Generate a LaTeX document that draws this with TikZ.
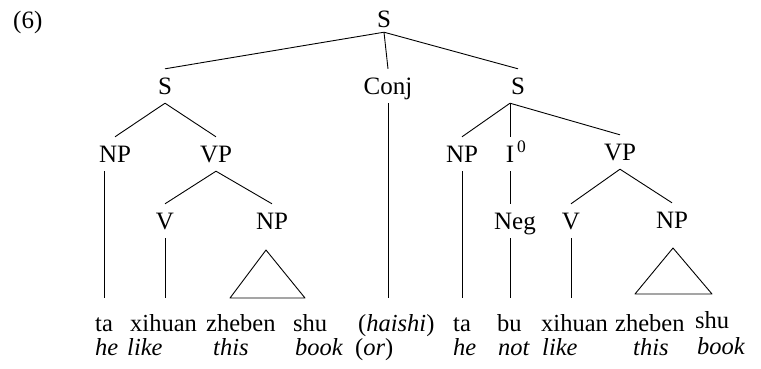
\documentclass[tikz,border=0pt]{standalone}
\usepackage{fontspec}
\setmainfont{Liberation Serif}
\begin{document}
\begin{tikzpicture}[x=1pt,y=-1pt,
  every node/.style={font=\fontsize{25}{29}\selectfont},
  cat/.style={inner xsep=0pt, inner ysep=9pt, text height=16pt, text depth=0pt},
  word/.style={anchor=base west, inner sep=0pt, text height=17pt, text depth=0pt, font=\fontsize{24.5}{28}\selectfont},
  gloss/.style={anchor=base west, inner sep=0pt, font=\fontsize{24.5}{28}\selectfont\itshape},
  edge/.style={line width=0.9pt, line join=round},
  leaf/.style={edge, shorten >=16pt}]
\fill[white] (0,0) rectangle (761,368);
\useasboundingbox (0,0) rectangle (761,368);

\node[anchor=base west, inner sep=0pt] (num) at (13,28) {(6)};

% categories
\node[cat, inner ysep=5pt] (S0) at (384,19) {S};
\node[cat] (S1)   at (165,86) {S};
\node[cat] (Conj) at (388,86) {Conj};
\node[cat] (S2)   at (518,86) {S};
\node[cat] (NP1)  at (115,154) {NP};
\node[cat] (VP1)  at (216,154) {VP};
\node[cat] (NP3)  at (462,154) {NP};
\node[cat] (I0)   at (510,154) {I\rlap{\kern3pt\textsuperscript{0}}};
\node[cat] (VP2)  at (620,152) {VP};
\node[cat] (V1)   at (165,221) {V};
\node[cat] (NP2)  at (272,221) {NP};
\node[cat] (Neg)  at (515,221) {Neg};
\node[cat] (V2)   at (571,221) {V};
\node[cat] (NP4)  at (672,220) {NP};

% words
\node[word] (ta1)  at (95,331)  {ta};
\node[word] (xihuan1) at (130,331) {xihuan};
\node[word] (zheben1) at (206,331) {zheben};
\node[word] (shu1) at (293,331) {shu};
\node[word] (haishi) at (358,331) {(\textit{haishi})};
\node[word] (ta2)  at (453,331) {ta};
\node[word] (bu)   at (497,331) {bu};
\node[word] (xihuan2) at (541,331) {xihuan};
\node[word] (zheben2) at (615,331) {zheben};
\node[word] (shu2) at (695,328) {shu};

% glosses
\node[gloss] (he1)   at (95,355)  {he};
\node[gloss] (like1) at (127,355) {like};
\node[gloss] (this1) at (213,355) {this};
\node[gloss] (book1) at (295,355) {book};
\node[gloss, font=\fontsize{24.5}{28}\selectfont] (or1) at (355,355) {(\textit{or})};
\node[gloss] (he2)   at (453,355) {he};
\node[gloss] (not)   at (498,355) {not};
\node[gloss] (like2) at (542,355) {like};
\node[gloss] (this2) at (633,355) {this};
\node[gloss] (book2) at (697,354) {book};

% branches
\draw[edge] (S0.south) -- (S1.north);
\draw[edge] (S0.south) -- (Conj.north);
\draw[edge] (S0.south) -- (S2.north);
\draw[edge] (S1.south) -- (NP1.north);
\draw[edge] (S1.south) -- (VP1.north);
\draw[edge] (S2.south -| I0) -- (NP3.north);
\draw[edge] (S2.south -| I0) -- (I0.north);
\draw[edge] (S2.south -| I0) -- (VP2.north);
\draw[edge] (VP1.south) -- (V1.north);
\draw[edge] (VP1.south) -- (NP2.north);
\draw[edge] (VP2.south) -- (V2.north);
\draw[edge] (VP2.south) -- (NP4.north);
\draw[edge] (I0.south) -- (I0.south |- Neg.north);

% leaves
\draw[leaf] (NP1.south -| ta1) -- (ta1.north);
\draw[leaf] (V1.south) -- (V1.south |- xihuan1.north);
\draw[leaf] (Conj.south) -- (Conj.south |- haishi.north);
\draw[leaf] (NP3.south -| ta2) -- (ta2.north);
\draw[leaf] (Neg.south -| I0) -- (bu.north -| I0);
\draw[leaf] (V2.south) -- (V2.south |- xihuan2.north);

% roofs
\coordinate (r1a) at (266,250);
\coordinate (r1b) at (230,298);
\coordinate (r1c) at (305,298);
\coordinate (r2a) at (673,248);
\coordinate (r2b) at (635,294);
\coordinate (r2c) at (712,294);
\draw[edge] (r1a) -- (r1b) -- (r1c) -- cycle;
\draw[edge] (r2a) -- (r2b) -- (r2c) -- cycle;
\end{tikzpicture}
\end{document}
